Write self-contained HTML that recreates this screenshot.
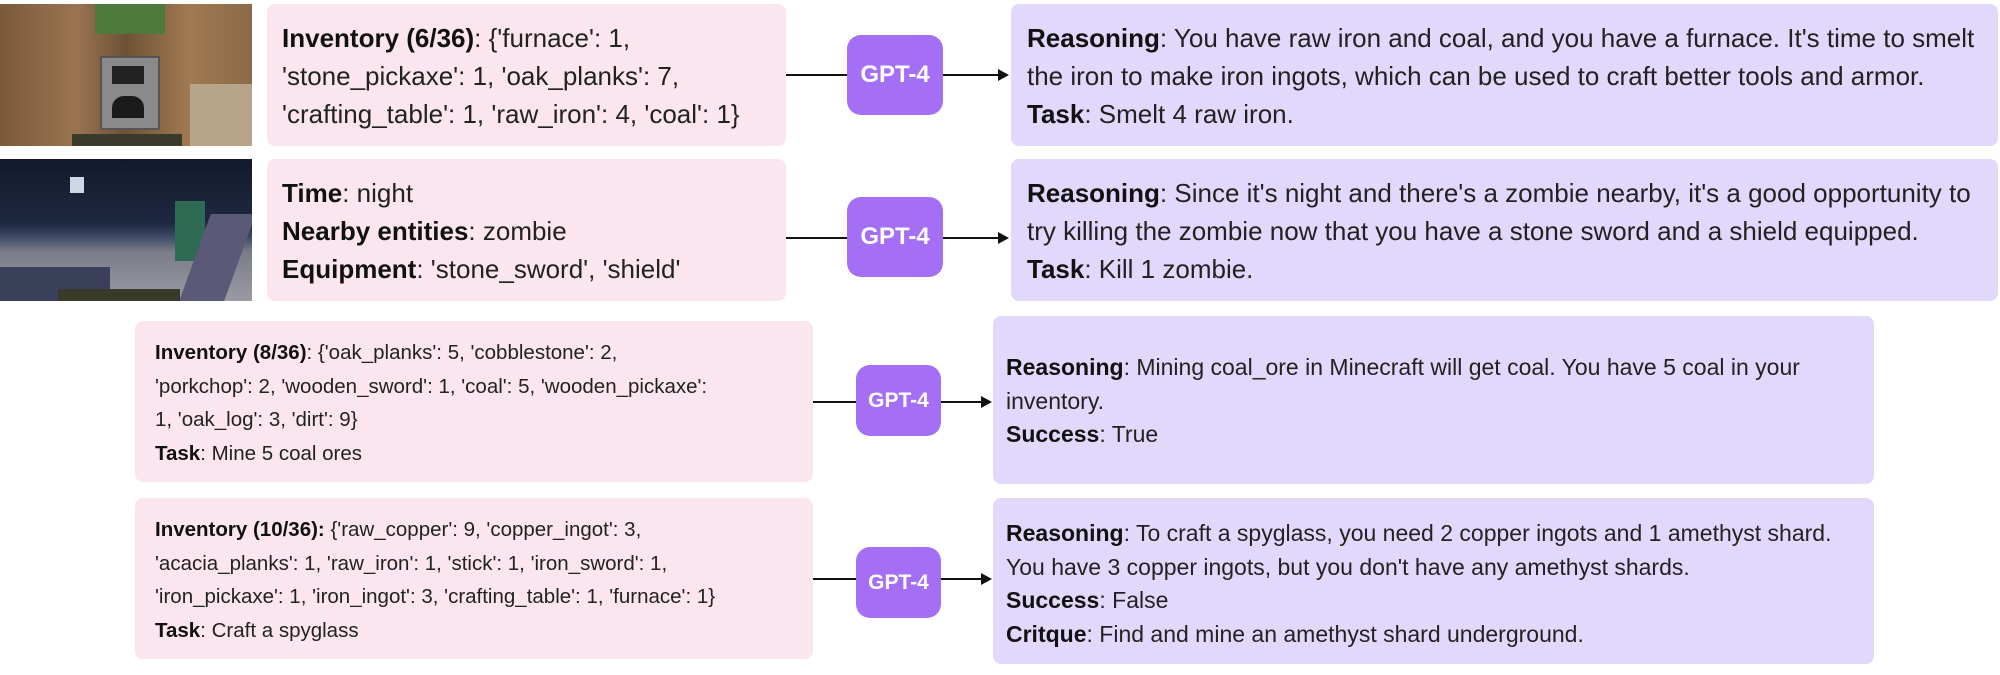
<!DOCTYPE html>
<html><head><meta charset="utf-8"><style>
body{margin:0;width:2000px;height:675px;background:#fff;position:relative;overflow:hidden;font-family:"Liberation Sans",sans-serif;color:#222;}
.b{position:absolute;border-radius:8px;box-sizing:border-box;white-space:nowrap;}
.pk{background:#fbe6ef;}
.lv{background:#e1d8fb;}
.g{position:absolute;background:#a46ef5;border-radius:14px;color:#fff;font-weight:bold;display:flex;align-items:center;justify-content:center;}
.ln{position:absolute;height:2px;background:#111;}
.ah{position:absolute;width:0;height:0;border-top:6px solid transparent;border-bottom:6px solid transparent;border-left:11px solid #111;}
.t{position:absolute;}
b{font-weight:bold;color:#111}
.big{font-size:26px;line-height:38px}
.sm{font-size:20.5px;line-height:33.5px}
.sm2{font-size:23px;line-height:33.5px}
</style></head><body>
<!-- images -->
<div style="position:absolute;left:0;top:4px;width:252px;height:142px;background:linear-gradient(90deg,#7a5a3a,#9a7450 30%,#6e5236 50%,#a07a52 75%,#8a6a48);overflow:hidden">
<div style="position:absolute;left:95px;top:0;width:70px;height:30px;background:#4d7a3a"></div>
<div style="position:absolute;left:100px;top:52px;width:56px;height:70px;background:#8a8a8a;border:2px solid #555"></div>
<div style="position:absolute;left:112px;top:62px;width:32px;height:18px;background:#222"></div>
<div style="position:absolute;left:112px;top:92px;width:32px;height:22px;background:#1a1a1a;border-radius:12px 12px 0 0"></div>
<div style="position:absolute;left:190px;top:80px;width:62px;height:62px;background:#b8a48a"></div>
<div style="position:absolute;left:72px;top:130px;width:110px;height:12px;background:#3a3a2a"></div>
</div>
<div style="position:absolute;left:0;top:159px;width:252px;height:142px;background:linear-gradient(180deg,#141a2c,#1e2840 45%,#3d4a66 55%,#7a7c88 65%,#9a9aa2);overflow:hidden">
<div style="position:absolute;left:70px;top:18px;width:14px;height:16px;background:#cfd6e6"></div>
<div style="position:absolute;left:175px;top:42px;width:30px;height:60px;background:#2f6a55"></div>
<div style="position:absolute;left:195px;top:55px;width:45px;height:87px;background:#5a5a78;transform:skewX(-20deg)"></div>
<div style="position:absolute;left:0;top:108px;width:110px;height:34px;background:#3a3f5a"></div>
<div style="position:absolute;left:58px;top:130px;width:122px;height:12px;background:#3a3a2a"></div>
</div>
<!-- row1 -->
<div class="b pk" style="left:267px;top:4px;width:519px;height:142px"></div>
<div class="t big" style="left:282px;top:19px;white-space:nowrap"><b>Inventory (6/36)</b>: {'furnace': 1,<br>'stone_pickaxe': 1, 'oak_planks': 7,<br>'crafting_table': 1, 'raw_iron': 4, 'coal': 1}</div>
<div class="ln" style="left:786px;top:74px;width:61px"></div>
<div class="g" style="left:847px;top:35px;width:96px;height:80px;font-size:24px">GPT-4</div>
<div class="ln" style="left:943px;top:74px;width:56px"></div>
<div class="ah" style="left:998px;top:69px"></div>
<div class="b lv" style="left:1011px;top:4px;width:987px;height:142px"></div>
<div class="t big" style="left:1027px;top:19px;white-space:nowrap"><b>Reasoning</b>: You have raw iron and coal, and you have a furnace. It's time to smelt<br>the iron to make iron ingots, which can be used to craft better tools and armor.<br><b>Task</b>: Smelt 4 raw iron.</div>
<!-- row2 -->
<div class="b pk" style="left:267px;top:159px;width:519px;height:142px"></div>
<div class="t big" style="left:282px;top:174px;white-space:nowrap"><b>Time</b>: night<br><b>Nearby entities</b>: zombie<br><b>Equipment</b>: 'stone_sword', 'shield'</div>
<div class="ln" style="left:786px;top:237px;width:61px"></div>
<div class="g" style="left:847px;top:197px;width:96px;height:80px;font-size:24px">GPT-4</div>
<div class="ln" style="left:943px;top:237px;width:56px"></div>
<div class="ah" style="left:998px;top:232px"></div>
<div class="b lv" style="left:1011px;top:159px;width:987px;height:142px"></div>
<div class="t big" style="left:1027px;top:174px;white-space:nowrap"><b>Reasoning</b>: Since it's night and there's a zombie nearby, it's a good opportunity to<br>try killing the zombie now that you have a stone sword and a shield equipped.<br><b>Task</b>: Kill 1 zombie.</div>
<!-- row3 -->
<div class="b pk" style="left:135px;top:321px;width:678px;height:161px"></div>
<div class="t sm" style="left:155px;top:336px;white-space:nowrap"><b>Inventory (8/36)</b>: {'oak_planks': 5, 'cobblestone': 2,<br>'porkchop': 2, 'wooden_sword': 1, 'coal': 5, 'wooden_pickaxe':<br>1, 'oak_log': 3, 'dirt': 9}<br><b>Task</b>: Mine 5 coal ores</div>
<div class="ln" style="left:813px;top:401px;width:43px"></div>
<div class="g" style="left:856px;top:365px;width:85px;height:71px;font-size:21px">GPT-4</div>
<div class="ln" style="left:941px;top:401px;width:42px"></div>
<div class="ah" style="left:981px;top:396px"></div>
<div class="b lv" style="left:993px;top:316px;width:881px;height:168px"></div>
<div class="t sm2" style="left:1006px;top:351px;white-space:nowrap"><b>Reasoning</b>: Mining coal_ore in Minecraft will get coal. You have 5 coal in your<br>inventory.<br><b>Success</b>: True</div>
<!-- row4 -->
<div class="b pk" style="left:135px;top:498px;width:678px;height:161px"></div>
<div class="t sm" style="left:155px;top:513px;white-space:nowrap"><b>Inventory (10/36):</b> {'raw_copper': 9, 'copper_ingot': 3,<br>'acacia_planks': 1, 'raw_iron': 1, 'stick': 1, 'iron_sword': 1,<br>'iron_pickaxe': 1, 'iron_ingot': 3, 'crafting_table': 1, 'furnace': 1}<br><b>Task</b>: Craft a spyglass</div>
<div class="ln" style="left:813px;top:578px;width:43px"></div>
<div class="g" style="left:856px;top:547px;width:85px;height:71px;font-size:21px">GPT-4</div>
<div class="ln" style="left:941px;top:578px;width:42px"></div>
<div class="ah" style="left:981px;top:573px"></div>
<div class="b lv" style="left:993px;top:498px;width:881px;height:166px"></div>
<div class="t sm2" style="left:1006px;top:517px;white-space:nowrap"><b>Reasoning</b>: To craft a spyglass, you need 2 copper ingots and 1 amethyst shard.<br>You have 3 copper ingots, but you don't have any amethyst shards.<br><b>Success</b>: False<br><b>Critque</b>: Find and mine an amethyst shard underground.</div>
</body></html>
